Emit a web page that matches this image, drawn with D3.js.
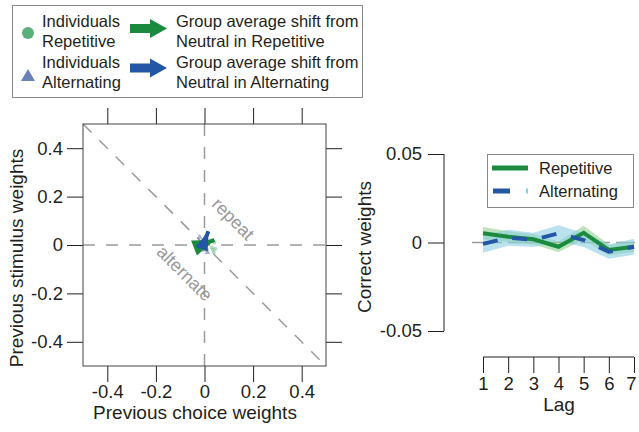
<!DOCTYPE html>
<html>
<head>
<meta charset="utf-8">
<script src="https://d3js.org/d3.v7.min.js"></script>
<style>
  body { margin: 0; background: #fff; }
  text { font-family: "Liberation Sans", Arial, Helvetica, sans-serif; fill: #231f20; }
</style>
</head>
<body>
<svg width="639" height="432"></svg>
<script>
// ---- data ----
const scatterTicks = [-0.4, -0.2, 0, 0.2, 0.4];
const scatterTickLabels = ["-0.4", "-0.2", "0", "0.2", "0.4"];

// individual subjects (previous choice weight, previous stimulus weight)
const indivRepX = [0.03, 0.035, 0.04, -0.02, 0.01, 0.02, 0.045, 0.038];
const indivRepY = [-0.01, -0.02, 0.01, 0.0, -0.02, 0.02, -0.015, -0.03];
const indivAltX = [-0.02, 0.0, 0.01, -0.01, 0.012];
const indivAltY = [0.033, -0.02, 0.01, -0.01, -0.03];

// group average shift from neutral: [startX, startY, endX, endY]
const shiftRep = [-0.012, 0.0, 0.041, 0.021];
const shiftAlt = [-0.01, -0.012, 0.016, 0.057];

const lags = [1, 2, 3, 4, 5, 6, 7];
const corrRep = [0.0052, 0.0033, 0.0018, -0.0024, 0.0055, -0.0042, -0.0024];
const corrRepSE = [0.0035, 0.003, 0.003, 0.003, 0.004, 0.003, 0.003];
const corrAlt = [-0.0008, 0.0027, 0.0015, 0.0052, 0.0014, -0.0052, -0.0024];
const corrAltSE = [0.005, 0.0045, 0.004, 0.0045, 0.004, 0.004, 0.0045];
const corrTicks = [-0.05, 0, 0.05];
const corrTickLabels = ["-0.05", "0", "0.05"];

const green = "#1b8a3e", blue = "#2356a5";
const lightGreen = "#5aaf7a", lightBlue = "#6a80b8";
const gridGray = "#9a9a9a", ink = "#231f20";

const svg = d3.select("svg");

// ---- left: scatter ----
const x = d3.scaleLinear().domain([-0.5, 0.5]).range([83, 326]);
const y = d3.scaleLinear().domain([-0.5, 0.5]).range([366, 124]);
const tickLen = 16;

const left = svg.append("g");

// reference dashed lines
const dash = "12,11";
left.append("line").attr("x1", x(-0.5)).attr("x2", x(0.5)).attr("y1", y(0)).attr("y2", y(0))
  .attr("stroke", gridGray).attr("stroke-width", 1.5).attr("stroke-dasharray", dash);
left.append("line").attr("x1", x(0)).attr("x2", x(0)).attr("y1", y(0.5)).attr("y2", y(-0.5))
  .attr("stroke", gridGray).attr("stroke-width", 1.5).attr("stroke-dasharray", dash);
left.append("line").attr("x1", x(-0.5)).attr("x2", x(0.5)).attr("y1", y(0.5)).attr("y2", y(-0.5))
  .attr("stroke", gridGray).attr("stroke-width", 1.5).attr("stroke-dasharray", dash);

left.append("text").attr("transform", `translate(${x(0.1)},${y(0.09)}) rotate(45)`)
  .attr("text-anchor", "middle").style("fill", gridGray).style("font-size", "18px").text("repeat");
left.append("text").attr("transform", `translate(${x(-0.1)},${y(-0.135)}) rotate(45)`)
  .attr("text-anchor", "middle").style("fill", gridGray).style("font-size", "18px").text("alternate");

// axes with outward ticks on all four sides
function styleAxis(g) {
  g.select(".domain").remove();
  g.selectAll(".tick line").attr("stroke", ink);
  g.selectAll(".tick text").style("font-size", "18.5px").style("font-family", "Liberation Sans, Arial, sans-serif").attr("fill", ink);
}
left.append("g").attr("transform", `translate(0,${y(-0.5)})`)
  .call(d3.axisBottom(x).tickValues(scatterTicks).tickSize(tickLen).tickPadding(3)
    .tickFormat((d, i) => scatterTickLabels[i])).call(styleAxis);
left.append("g").attr("transform", `translate(0,${y(0.5)})`)
  .call(d3.axisTop(x).tickValues(scatterTicks).tickSize(tickLen).tickFormat("")).call(styleAxis);
left.append("g").attr("transform", `translate(${x(-0.5)},0)`)
  .call(d3.axisLeft(y).tickValues(scatterTicks).tickSize(tickLen).tickPadding(4)
    .tickFormat((d, i) => scatterTickLabels[i])).call(styleAxis);
left.append("g").attr("transform", `translate(${x(0.5)},0)`)
  .call(d3.axisRight(y).tickValues(scatterTicks).tickSize(tickLen).tickFormat("")).call(styleAxis);

left.append("rect").attr("x", x(-0.5)).attr("y", y(0.5))
  .attr("width", x(0.5) - x(-0.5)).attr("height", y(-0.5) - y(0.5))
  .attr("fill", "none").attr("stroke", "#444").attr("stroke-width", 1);

// individuals
left.selectAll(".indRep").data(indivRepX).join("circle")
  .attr("cx", d => x(d)).attr("cy", (d, i) => y(indivRepY[i])).attr("r", 2)
  .attr("fill", lightGreen).attr("opacity", 0.45);
const tri = d3.symbol().type(d3.symbolTriangle);
left.selectAll(".indAlt").data(indivAltX).join("path")
  .attr("d", tri.size(14))
  .attr("transform", (d, i) => `translate(${x(d)},${y(indivAltY[i])})`)
  .attr("fill", lightBlue).attr("opacity", 0.6);

// group average arrows (head drawn at fixed pixel size)
function arrowHead(s, len, wid) {
  const x0 = x(s[0]), y0 = y(s[1]), x1 = x(s[2]), y1 = y(s[3]);
  const dx = x1 - x0, dy = y1 - y0, L = Math.hypot(dx, dy);
  const ux = dx / L, uy = dy / L, px = -uy, py = ux;
  const bx = x1 - ux * len, by = y1 - uy * len;
  return `M${x1},${y1}L${bx + px * wid / 2},${by + py * wid / 2}L${bx - px * wid / 2},${by - py * wid / 2}Z`;
}
function shaft(s) {
  return `M${x(s[0])},${y(s[1])}L${x(s[2])},${y(s[3])}`;
}
left.append("path").attr("d", shaft(shiftRep)).attr("stroke", green).attr("stroke-width", 4);
left.append("path").attr("d", arrowHead(shiftRep, 22, 16)).attr("fill", green);
left.append("path").attr("d", shaft(shiftAlt)).attr("stroke", blue).attr("stroke-width", 4);
left.append("path").attr("d", arrowHead(shiftAlt, 19, 13)).attr("fill", blue);

// axis titles
svg.append("text").attr("x", 195).attr("y", 419).attr("text-anchor", "middle")
  .style("font-size", "19px").text("Previous choice weights");
svg.append("text").attr("transform", "translate(23,258) rotate(-90)").attr("text-anchor", "middle")
  .style("font-size", "19px").text("Previous stimulus weights");

// ---- top-left legend ----
const lg = svg.append("g");
lg.append("rect").attr("x", 12.5).attr("y", 5.5).attr("width", 350).attr("height", 92)
  .attr("fill", "#fff").attr("stroke", "#888");
lg.append("circle").attr("cx", 28).attr("cy", 33).attr("r", 6).attr("fill", lightGreen);
lg.append("path").attr("d", tri.size(85)).attr("transform", "translate(28,77)").attr("fill", lightBlue);
const legLines = [["Individuals", 27], ["Repetitive", 47], ["Individuals", 68], ["Alternating", 88]];
legLines.forEach(([t, yy]) => lg.append("text").attr("x", 42).attr("y", yy).style("font-size", "16.5px").text(t));
const legLines2 = [["Group average shift from", 27], ["Neutral in Repetitive", 47],
  ["Group average shift from", 68], ["Neutral in Alternating", 88]];
legLines2.forEach(([t, yy]) => lg.append("text").attr("x", 176).attr("y", yy).style("font-size", "16.5px").text(t));
function legArrow(cy, color) {
  lg.append("path").attr("fill", color)
    .attr("d", `M130,${cy - 4.5}L150,${cy - 4.5}L150,${cy - 9.5}L167,${cy}L150,${cy + 9.5}L150,${cy + 4.5}L130,${cy + 4.5}Z`);
}
legArrow(28.5, green);
legArrow(68, blue);

// ---- right: correct weights over lags ----
const xl = d3.scaleLinear().domain([1, 7]).range([483, 634]);
const yl = d3.scaleLinear().domain([-0.05, 0.05]).range([331, 154]);
const right = svg.append("g");

right.append("line").attr("x1", 472).attr("x2", 635).attr("y1", yl(0)).attr("y2", yl(0))
  .attr("stroke", gridGray).attr("stroke-width", 1.5).attr("stroke-dasharray", "30,6");

const area = (vals, se) => d3.area().x((d, i) => xl(lags[i]))
  .y0((d, i) => yl(vals[i] - se[i])).y1((d, i) => yl(vals[i] + se[i]))(lags);
const line = vals => d3.line().x((d, i) => xl(lags[i])).y((d, i) => yl(vals[i]))(lags);

right.append("path").attr("d", area(corrRep, corrRepSE)).attr("fill", "#8fd08f").attr("opacity", 0.6);
right.append("path").attr("d", area(corrAlt, corrAltSE)).attr("fill", "#8ccfe3").attr("opacity", 0.6);
right.append("path").attr("d", line(corrRep)).attr("fill", "none").attr("stroke", green).attr("stroke-width", 4);
right.append("path").attr("d", line(corrAlt)).attr("fill", "none").attr("stroke", blue).attr("stroke-width", 4)
  .attr("stroke-dasharray", "15,15");

function styleAxis2(g) {
  g.selectAll(".tick line").attr("stroke", ink);
  g.selectAll(".tick text").style("font-size", "18.5px").style("font-family", "Liberation Sans, Arial, sans-serif").attr("fill", ink);
}
const ya = right.append("g").attr("transform", "translate(444,0)")
  .call(d3.axisLeft(yl).tickValues(corrTicks).tickSize(tickLen).tickPadding(6)
    .tickFormat((d, i) => corrTickLabels[i]));
ya.select(".domain").attr("d", `M0,${yl(0.05)}V${yl(-0.05)}`).attr("stroke", ink);
styleAxis2(ya);
const xa = right.append("g").attr("transform", "translate(0,357)")
  .call(d3.axisBottom(xl).tickValues(lags).tickSize(tickLen).tickPadding(4).tickFormat(d3.format("d")));
xa.select(".domain").attr("d", `M${xl(1)},0H${xl(7)}`).attr("stroke", ink);
styleAxis2(xa);
xa.selectAll(".tick text").filter(d => d === 7).attr("dx", "-3");

svg.append("text").attr("x", 559).attr("y", 411).attr("text-anchor", "middle")
  .style("font-size", "19px").text("Lag");
svg.append("text").attr("transform", "translate(371,247) rotate(-90)").attr("text-anchor", "middle")
  .style("font-size", "19px").text("Correct weights");

// right legend
const rl = svg.append("g");
rl.append("rect").attr("x", 487.5).attr("y", 154.5).attr("width", 146).attr("height", 53)
  .attr("fill", "#fff").attr("stroke", "#888");
rl.append("line").attr("x1", 492).attr("x2", 528).attr("y1", 168).attr("y2", 168)
  .attr("stroke", green).attr("stroke-width", 5);
rl.append("line").attr("x1", 493).attr("x2", 510).attr("y1", 191).attr("y2", 191)
  .attr("stroke", blue).attr("stroke-width", 5);
rl.append("line").attr("x1", 526).attr("x2", 528).attr("y1", 191).attr("y2", 191)
  .attr("stroke", "#8ccfe3").attr("stroke-width", 5);
rl.append("text").attr("x", 539).attr("y", 174).style("font-size", "16.5px").text("Repetitive");
rl.append("text").attr("x", 539).attr("y", 197).style("font-size", "16.5px").text("Alternating");
</script>
</body>
</html>
